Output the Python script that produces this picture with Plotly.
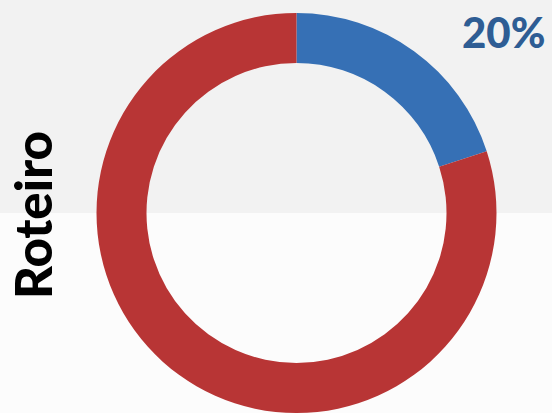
import plotly.graph_objects as go

labels = ["Roteiro", "Restante"]
values = [20, 80]
colors = ["#3670b5", "#b83535"]
pct_label = "20%"
side_title = "Roteiro"

W, H = 552, 413
cx, cy, r = 296.5, 213, 200

fig = go.Figure()
fig.add_trace(go.Pie(
    labels=labels, values=values, hole=0.75, sort=False,
    direction="clockwise", rotation=0,
    marker=dict(colors=colors, line=dict(width=0)),
    textinfo="none", hoverinfo="label+percent", showlegend=False,
    domain=dict(x=[(cx - r) / W, (cx + r) / W], y=[(H - cy - r) / H, (H - cy + r) / H]),
))

fig.update_layout(
    width=W, height=H, margin=dict(l=0, r=0, t=0, b=0),
    paper_bgcolor="#ffffff", plot_bgcolor="#ffffff",
    shapes=[
        dict(type="rect", xref="paper", yref="paper", x0=0, x1=1, y0=1 - 213 / H, y1=1,
             fillcolor="#f2f2f2", line=dict(width=0), layer="below"),
        dict(type="rect", xref="paper", yref="paper", x0=0, x1=1, y0=0, y1=1 - 213 / H,
             fillcolor="#fcfcfc", line=dict(width=0), layer="below"),
    ],
    annotations=[
        dict(text=pct_label, x=504 / W, y=1 - 32 / H, xref="paper", yref="paper",
             showarrow=False, xanchor="center", yanchor="middle",
             font=dict(family="Lato", size=42, color="#2e5d94", weight=900)),
        dict(text=side_title, x=32 / W, y=1 - 215 / H, xref="paper", yref="paper",
             showarrow=False, xanchor="center", yanchor="middle", textangle=-90,
             font=dict(family="Lato", size=51, color="#000000", weight=900)),
    ],
)

fig.write_html("out.html", config={"displayModeBar": False},
               post_script="document.body.style.margin='0';document.body.style.overflow='hidden';")
